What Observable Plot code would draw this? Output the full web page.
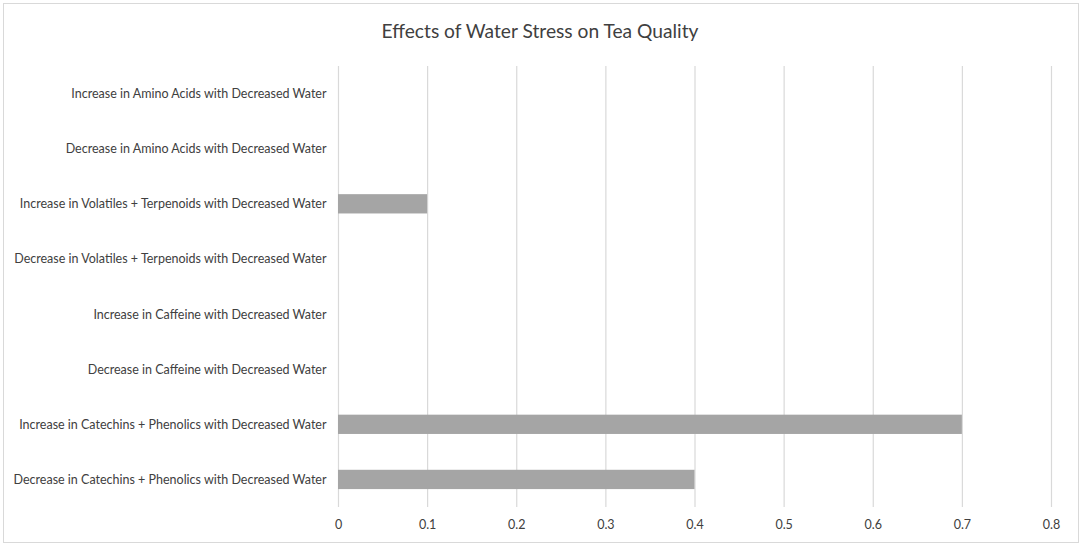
<!DOCTYPE html>
<html>
<head>
<meta charset="utf-8">
<script src="https://cdn.jsdelivr.net/npm/d3@7"></script>
<script src="https://cdn.jsdelivr.net/npm/@observablehq/plot@0.6"></script>
<style>
  html, body { margin: 0; padding: 0; background: #fff; }
  #frame { position: absolute; left: 3px; top: 3px; width: 1074px; height: 538px; border: 1px solid #d9d9d9; box-sizing: content-box; }
  #title { position: absolute; left: 0; top: 19px; width: 1080px; text-align: center; font-family: Lato, "Open Sans", sans-serif; font-size: 19.2px; color: #404040; }
  #chart { position: absolute; left: 0; top: 50px; }
</style>
</head>
<body>
<div id="frame"></div>
<div id="title">Effects of Water Stress on Tea Quality</div>
<div id="chart"></div>
<script>
const categories = [
  "Increase in Amino Acids with Decreased Water",
  "Decrease in Amino Acids with Decreased Water",
  "Increase in Volatiles + Terpenoids with Decreased Water",
  "Decrease in Volatiles + Terpenoids with Decreased Water",
  "Increase in Caffeine with Decreased Water",
  "Decrease in Caffeine with Decreased Water",
  "Increase in Catechins + Phenolics with Decreased Water",
  "Decrease in Catechins + Phenolics with Decreased Water"
];
const values = [0, 0, 0.1, 0, 0, 0, 0.7, 0.4];
const xTicks = [0, 0.1, 0.2, 0.3, 0.4, 0.5, 0.6, 0.7, 0.8];

const data = categories.map((c, i) => ({category: c, value: values[i]}));
const fmt = d => d === 0 ? "0" : String(+d.toFixed(1));

const chart = Plot.plot({
  width: 1084,
  height: 492,
  marginTop: 16,
  marginBottom: 35,
  marginLeft: 338,
  marginRight: 33,
  style: {fontFamily: "Lato, 'Open Sans', sans-serif", fontSize: "12.5px", color: "#404040", background: "transparent"},
  x: {domain: [0, 0.8], ticks: xTicks, tickFormat: fmt, label: null},
  y: {domain: categories, paddingInner: 0.65, paddingOuter: 0.325, round: false, label: null},
  marks: [
    Plot.ruleX(xTicks, {stroke: "#d9d9d9", strokeWidth: 1.2}),
    Plot.barX(data, {y: "category", x: "value", fill: "#a5a5a5"}),
    Plot.axisX({ticks: xTicks, tickSize: 0, tickPadding: 13, tickFormat: fmt, label: null}),
    Plot.axisY({tickSize: 0, tickPadding: 12, label: null})
  ]
});
document.getElementById("chart").appendChild(chart);
</script>
</body>
</html>
